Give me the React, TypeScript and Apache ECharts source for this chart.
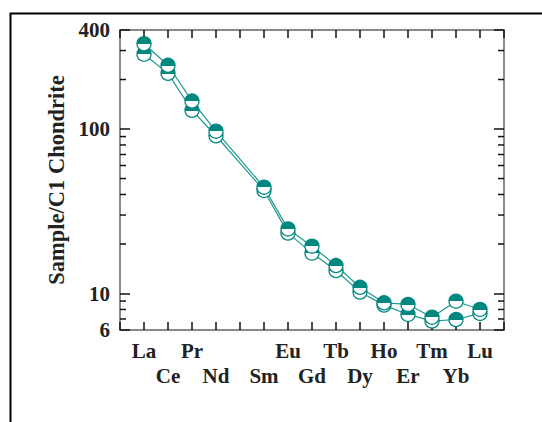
import React, { useEffect, useRef } from "react";
import * as echarts from "echarts";

// Rare earth elements in chondrite-normalised order (Pm has no analysis)
const elements = ["La", "Ce", "Pr", "Nd", "Pm", "Sm", "Eu", "Gd", "Tb", "Dy", "Ho", "Er", "Tm", "Yb", "Lu"];

// Chondrite-normalised abundances of the two samples
const sampleA: (number | null)[] = [330, 244, 148, 97, null, 44.3, 24.7, 19.4, 14.8, 10.9, 8.78, 8.58, 7.18, 8.98, 8.0];
const sampleB: (number | null)[] = [285, 218, 130, 91, null, 42.3, 23.3, 17.6, 13.8, 10.2, 8.5, 7.46, 6.8, 6.95, 7.57];

// Log-axis range and the unlabelled minor ticks between decades
const yMin = 6;
const yMax = 400;
const minorTicks = [7, 8, 9, 20, 30, 40, 50, 60, 70, 80, 90, 200, 300];

const TEAL = "#00877f";
const LINE = "#1d9890";
const FONT = "'Liberation Serif', 'Times New Roman', serif";

const toPoints = (vals: (number | null)[]) => vals.map((v, i) => [i, v]);

const halfFill = () =>
  new echarts.graphic.LinearGradient(0, 0, 0, 1, [
    { offset: 0, color: TEAL },
    { offset: 0.52, color: TEAL },
    { offset: 0.52, color: "#ffffff" },
    { offset: 1, color: "#ffffff" },
  ]);

export default function App() {
  const ref = useRef<HTMLDivElement>(null);

  useEffect(() => {
    if (!ref.current) return;
    const chart = echarts.init(ref.current, null, { renderer: "svg" });

    const frame = { onZero: false, lineStyle: { color: "#666", width: 1.5 } };
    const tickStyle = { color: "#111", width: 1.5 };
    const labelText = { fontSize: 21, fontWeight: "bold" as const, fontFamily: FONT, color: "#222" };

    const lineSeries = (name: string, vals: (number | null)[]) => ({
      name,
      type: "line",
      data: toPoints(vals),
      connectNulls: true,
      symbol: "circle",
      symbolSize: 14,
      lineStyle: { color: LINE, width: 1.2 },
      itemStyle: { color: halfFill(), borderColor: TEAL, borderWidth: 1.3 },
      z: 3,
    });

    chart.setOption({
      animation: false,
      backgroundColor: "#ffffff",
      graphic: [
        {
          type: "rect",
          left: 8,
          top: 11,
          shape: { width: 600, height: 500 },
          style: { fill: "none", stroke: "#000", lineWidth: 2 },
          silent: true,
        },
      ],
      grid: { left: 120, right: 38, top: 30, bottom: 92 },
      xAxis: [
        {
          type: "value",
          min: -1,
          max: 15,
          interval: 1,
          position: "bottom",
          axisLine: frame,
          axisTick: { inside: true, length: 8, lineStyle: tickStyle },
          splitLine: { show: false },
          axisLabel: {
            ...labelText,
            margin: 8,
            lineHeight: 25,
            formatter: (v: number) => {
              const name = elements[Math.round(v)];
              if (!name || name === "Pm") return "";
              return Math.round(v) % 2 === 0 ? name : "\n" + name;
            },
          },
        },
        {
          type: "value",
          min: -1,
          max: 15,
          interval: 1,
          position: "top",
          axisLine: frame,
          axisTick: { inside: true, length: 8, lineStyle: tickStyle },
          axisLabel: { show: false },
          splitLine: { show: false },
        },
      ],
      yAxis: [
        {
          type: "log",
          logBase: 10,
          min: yMin,
          max: yMax,
          position: "left",
          name: "Sample/C1 Chondrite",
          nameLocation: "middle",
          nameGap: 44,
          nameTextStyle: { ...labelText, fontSize: 22.5 },
          axisLine: { show: true, ...frame },
          axisTick: { inside: true, length: 10, lineStyle: tickStyle },
          splitLine: { show: false },
          axisLabel: {
            ...labelText,
            margin: 10,
            formatter: (v: number) => String(Math.round(v)),
          },
        },
        {
          type: "log",
          logBase: 10,
          min: yMin,
          max: yMax,
          position: "right",
          axisLine: { show: true, ...frame },
          axisTick: { inside: true, length: 10, lineStyle: tickStyle },
          axisLabel: { show: false },
          splitLine: { show: false },
        },
      ],
      series: [
        {
          type: "custom",
          silent: true,
          clip: false,
          z: 1,
          data: minorTicks.map((v) => [0, v]),
          encode: { x: 0, y: 1 },
          renderItem: (params: any, api: any) => {
            const y = api.coord([0, api.value(1)])[1];
            const cs = params.coordSys;
            return {
              type: "group",
              children: [
                { type: "line", shape: { x1: cs.x, y1: y, x2: cs.x + 6, y2: y }, style: { stroke: "#111", lineWidth: 1.5 } },
                {
                  type: "line",
                  shape: { x1: cs.x + cs.width - 6, y1: y, x2: cs.x + cs.width, y2: y },
                  style: { stroke: "#111", lineWidth: 1.5 },
                },
              ],
            };
          },
        },
        lineSeries("B", sampleB),
        lineSeries("A", sampleA),
      ],
    });

    return () => chart.dispose();
  }, []);

  return (
    <div
      ref={ref}
      style={{ position: "fixed", left: 0, top: 0, width: 542, height: 422, background: "#fff" }}
    />
  );
}
